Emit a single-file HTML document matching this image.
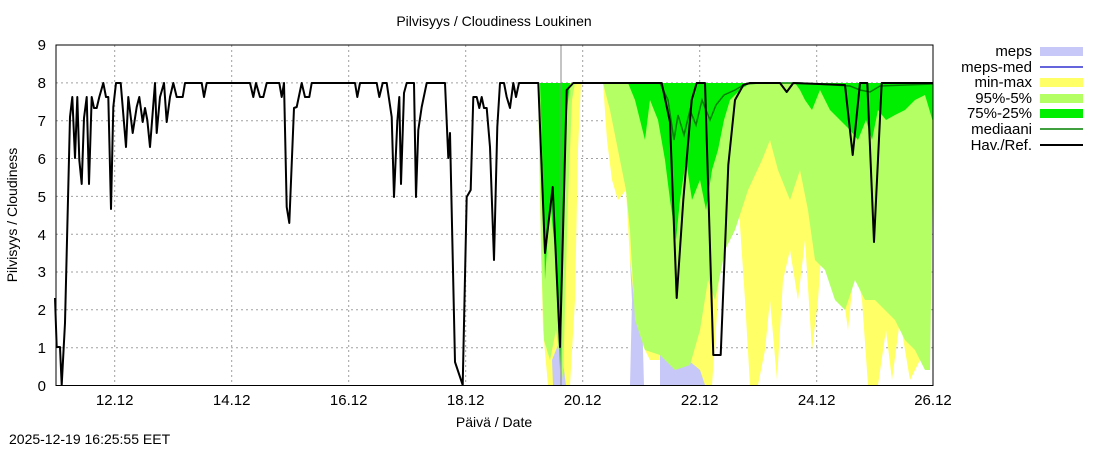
<!DOCTYPE html>
<html><head><meta charset="utf-8"><style>body{margin:0;background:#fff}svg{display:block;font-family:"Liberation Sans",sans-serif}</style></head><body>
<svg width="1100" height="450" viewBox="0 0 1100 450" xmlns="http://www.w3.org/2000/svg">
<rect width="1100" height="450" fill="#fff"/>
<g stroke="#a0a0a0" stroke-width="1" stroke-dasharray="2,3">
<line x1="56" y1="347.7" x2="933" y2="347.7"/><line x1="56" y1="309.8" x2="933" y2="309.8"/><line x1="56" y1="272" x2="933" y2="272"/><line x1="56" y1="234.2" x2="933" y2="234.2"/><line x1="56" y1="196.4" x2="933" y2="196.4"/><line x1="56" y1="158.5" x2="933" y2="158.5"/><line x1="56" y1="120.7" x2="933" y2="120.7"/><line x1="56" y1="82.9" x2="933" y2="82.9"/>
<line x1="114.7" y1="45" x2="114.7" y2="385"/><line x1="231.7" y1="45" x2="231.7" y2="385"/><line x1="348.7" y1="45" x2="348.7" y2="385"/><line x1="465.7" y1="45" x2="465.7" y2="385"/><line x1="582.7" y1="45" x2="582.7" y2="385"/><line x1="699.7" y1="45" x2="699.7" y2="385"/><line x1="816.7" y1="45" x2="816.7" y2="385"/>
</g>
<polygon fill="#ffff66" points="538,83 581,83 578,150 575,300 570,385 548,385 543,330 540,200"/>
<polygon fill="#ffff66" points="603,83 933,83 928,330 920,360 910,380 900,320 892,380 886,330 878,385 868,385 862,300 855,260 848,330 840,270 833,170 825,200 818,300 812,350 805,240 798,300 790,250 783,280 777,380 770,300 765,350 758,385 750,385 745,300 735,150 728,180 722,200 718,300 712,385 668,385 660,360 650,360 640,340 632,300 630,260 626,190 618,200 612,180 607,140"/>
<polygon fill="#c8c8f8" points="548,83 567,83 566,140 560,150 556,110 552,100"/>
<polygon fill="#c8c8f8" points="552,360 560,340 566,385 553,385"/>
<polygon fill="#c8c8f8" points="630,260 634,300 640,240 644,385 630,385 632,300"/>
<polygon fill="#c8c8f8" points="660,330 668,300 674,340 680,320 688,360 700,370 705,385 660,385"/>
<polygon fill="#b4ff64" points="538,83 575,83 572,100 568,200 563,380 556,330 550,360 544,340 541,250"/>
<polygon fill="#b4ff64" points="603,83 933,83 933,160 930,370 925,370 915,350 905,340 895,320 885,310 875,300 865,300 855,280 845,310 835,300 825,270 815,260 808,210 800,170 790,200 778,170 770,140 762,160 748,190 735,230 725,250 715,300 708,280 700,330 690,365 675,370 660,355 645,350 635,320 630,230 626,190 618,150 610,110"/>
<polygon fill="#00ee00" points="540,83 570,83 566,120 563,250 560,370 555,250 550,200 545,280 543,180"/>
<polygon fill="#00ee00" points="628,83 933,83 933,122 925,95 915,100 905,110 895,115 886,120 878,110 872,140 866,120 858,140 850,130 840,120 830,110 820,90 812,110 805,100 800,90 795,83 750,83 740,90 730,100 724,120 718,150 712,170 706,210 700,180 692,200 686,160 680,200 676,240 670,200 665,160 658,120 650,100 645,140 640,120 635,100"/>
<polyline fill="none" stroke="#008000" stroke-width="1.5" points="660,83 668,100 674,140 678,115 684,135 690,110 696,125 702,100 710,120 716,105 724,95 735,90 745,84 760,83 800,83 850,86 860,90 870,92 880,86 933,84"/>
<line x1="561" y1="45" x2="561" y2="385" stroke="#888" stroke-width="1"/>
<polyline fill="none" stroke="#000" stroke-width="2" stroke-linejoin="round" points="55,298 56.7,347 60,347 61.7,385 65,323 68.3,187 70,117 72.3,97 75,158 77.3,97 79.3,160 81.7,184 84,118 86.7,97 89,184 91.7,97 94,108 96.7,108 99.3,97 103.3,83 106,97 108.3,97 111,209 113.3,107 116,83 120.7,83 126,147 128.3,97 132.7,133 136.7,107 139.3,97 142.7,122 145,108 147.3,120 150,147 155,83 156.7,133 160,97 164,83 166.7,122 170,97 173.3,83 176.7,97 182.7,97 185,83 201.7,83 204,97 206.7,83 250,83 253.3,97 256,83 260,97 263.3,97 266.7,83 279.3,83 281.7,97 284,83 286.7,207 289.3,223 294,108 296.7,107 301.7,83 305,97 309.3,97 311.7,83 355,83 357.3,97 360,83 376.7,83 379.3,97 382.7,83 386.7,83 391.7,117 394,197 397.3,122 399.3,97 401,184 404,93 406.7,83 414,83 416,197 418.3,130 421.7,107 426.7,83 445,83 448.3,158 450,133 455,362 462.7,385 466.7,197 470.7,190 473.3,97 476.7,97 479.3,108 481.7,97 484,108 486.7,108 490,147 494,260 497.3,127 500,83 504,83 506.7,97 510,108 513.3,83 516,97 519,83 538.3,83 545,253 552.7,187 560,347 566.7,90 573.3,83 661.7,83 670,122 676.7,298 683.3,200 691.7,100 696.7,83 705,83 713.3,355 720.7,355 728.3,165 735,100 743.3,85 750,83 780,83 786.7,92 793.3,83 845,85 852.7,155 860,83 867.3,83 874,242 881.7,83 933,83"/>
<rect x="56" y="45" width="877" height="340.5" fill="none" stroke="#000" stroke-width="1"/>
<g font-size="15" fill="#000" text-anchor="end">
<text x="46" y="391">0</text><text x="46" y="353">1</text><text x="46" y="315">2</text><text x="46" y="277">3</text><text x="46" y="240">4</text><text x="46" y="202">5</text><text x="46" y="164">6</text><text x="46" y="126">7</text><text x="46" y="88">8</text><text x="46" y="50">9</text>
</g>
<g font-size="15" fill="#000" text-anchor="middle">
<text x="114.7" y="405">12.12</text><text x="231.7" y="405">14.12</text><text x="348.7" y="405">16.12</text><text x="465.7" y="405">18.12</text><text x="582.7" y="405">20.12</text><text x="699.7" y="405">22.12</text><text x="816.7" y="405">24.12</text><text x="933" y="405">26.12</text>
</g>
<g font-size="14" fill="#000" text-anchor="middle">
<text x="494" y="26">Pilvisyys / Cloudiness Loukinen</text>
<text x="494" y="427">Päivä / Date</text>
<text transform="translate(17,215) rotate(-90)">Pilvisyys / Cloudiness</text>
</g>
<text x="9" y="444" font-size="14">2025-12-19 16:25:55 EET</text>
<g font-size="15" text-anchor="end">
<text x="1032" y="56">meps</text><text x="1032" y="72">meps-med</text><text x="1032" y="87">min-max</text><text x="1032" y="103">95%-5%</text><text x="1032" y="118">75%-25%</text><text x="1032" y="134">mediaani</text><text x="1032" y="150">Hav./Ref.</text>
</g>
<rect x="1040" y="47" width="43" height="9" fill="#c8c8f8"/>
<line x1="1040" y1="67" x2="1083" y2="67" stroke="#3030d0" stroke-width="1.5"/>
<rect x="1040" y="78" width="43" height="9" fill="#ffff66"/>
<rect x="1040" y="94" width="43" height="9" fill="#b4ff64"/>
<rect x="1040" y="109" width="43" height="9" fill="#00ee00"/>
<line x1="1040" y1="129" x2="1083" y2="129" stroke="#008000" stroke-width="1.5"/>
<line x1="1040" y1="145" x2="1083" y2="145" stroke="#000" stroke-width="2"/>
</svg>
</body></html>
